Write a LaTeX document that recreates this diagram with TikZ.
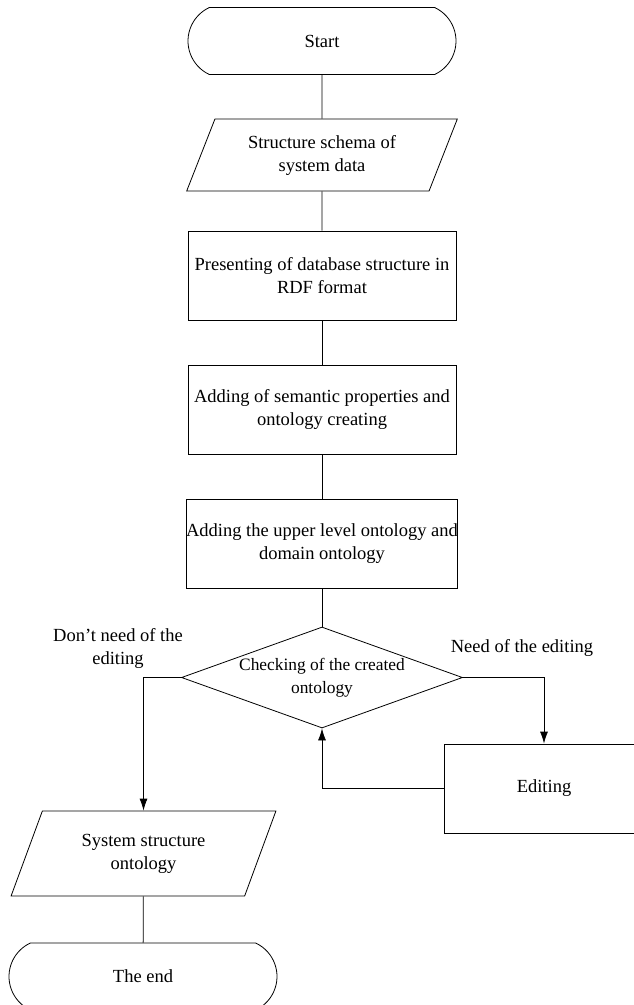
\documentclass[tikz,border=0pt]{standalone}
\usepackage{fontspec}
\setmainfont{Liberation Serif}
\usetikzlibrary{shapes.geometric,shapes.misc,arrows.meta}

\tikzset{
  >={Latex[length=12pt,width=8pt]},
  every node/.style={font=\fontsize{18.5}{23}\selectfont, align=center, inner sep=0pt},
  terminal/.style={draw, rounded rectangle, rounded rectangle arc length=130, minimum width=268, minimum height=67},
  iobox/.style={draw, trapezium, trapezium left angle=64, trapezium right angle=116, trapezium stretches=true, minimum height=#1},
  process/.style={draw, rectangle, minimum width=268, minimum height=89},
  decision/.style={draw, diamond, minimum width=281, minimum height=101},
  flow/.style={line width=0.8pt}
}

\begin{document}
\begin{tikzpicture}[x=1pt, y=-1pt, line width=0.8pt]

\useasboundingbox (0,0) rectangle (633,1005);

% main column
\node[terminal] (start) at (322,41) {Start};
\node[iobox=72, minimum width=271] (schema) at (322,155) {Structure schema of\\system data};
\node[process] (rdf) at (322,275.5) {Presenting of database structure in\\RDF format};
\node[process] (sem) at (322,409.5) {Adding of semantic properties and\\ontology creating};
\node[process] (upper) at (322,543.5) {Adding the upper level ontology and\\domain ontology};

% check and its two branches
\node[decision] (check) at (322,677.5) {};
\node[font=\fontsize{17.4}{23}\selectfont] (checktxt) at (check.center) {Checking of the created\\ontology};
\node[process, minimum width=200] (edit) at (544,788.5) {Editing};
\node[iobox=85, minimum width=265] (result) at (143.5,853.5) {System structure\\ontology};
\node[terminal] (end) at (143,976.5) {The end};

\node (noedit) at (118,648.5) {Don't need of the\\editing};
\node (neededit) at (522,648) {Need of the editing};

\draw[flow] (start) -- (schema);
\draw[flow] (schema) -- (rdf);
\draw[flow] (rdf) -- (sem);
\draw[flow] (sem) -- (upper);
\draw[flow] (upper) -- (check);

\draw[flow,->] (check.west) -| (result.north);
\draw[flow,->] (check.east) -| (edit.north);
\draw[flow,->] (edit.west) -| (check.south);

\draw[flow] (result) -- (end);

\end{tikzpicture}
\end{document}
